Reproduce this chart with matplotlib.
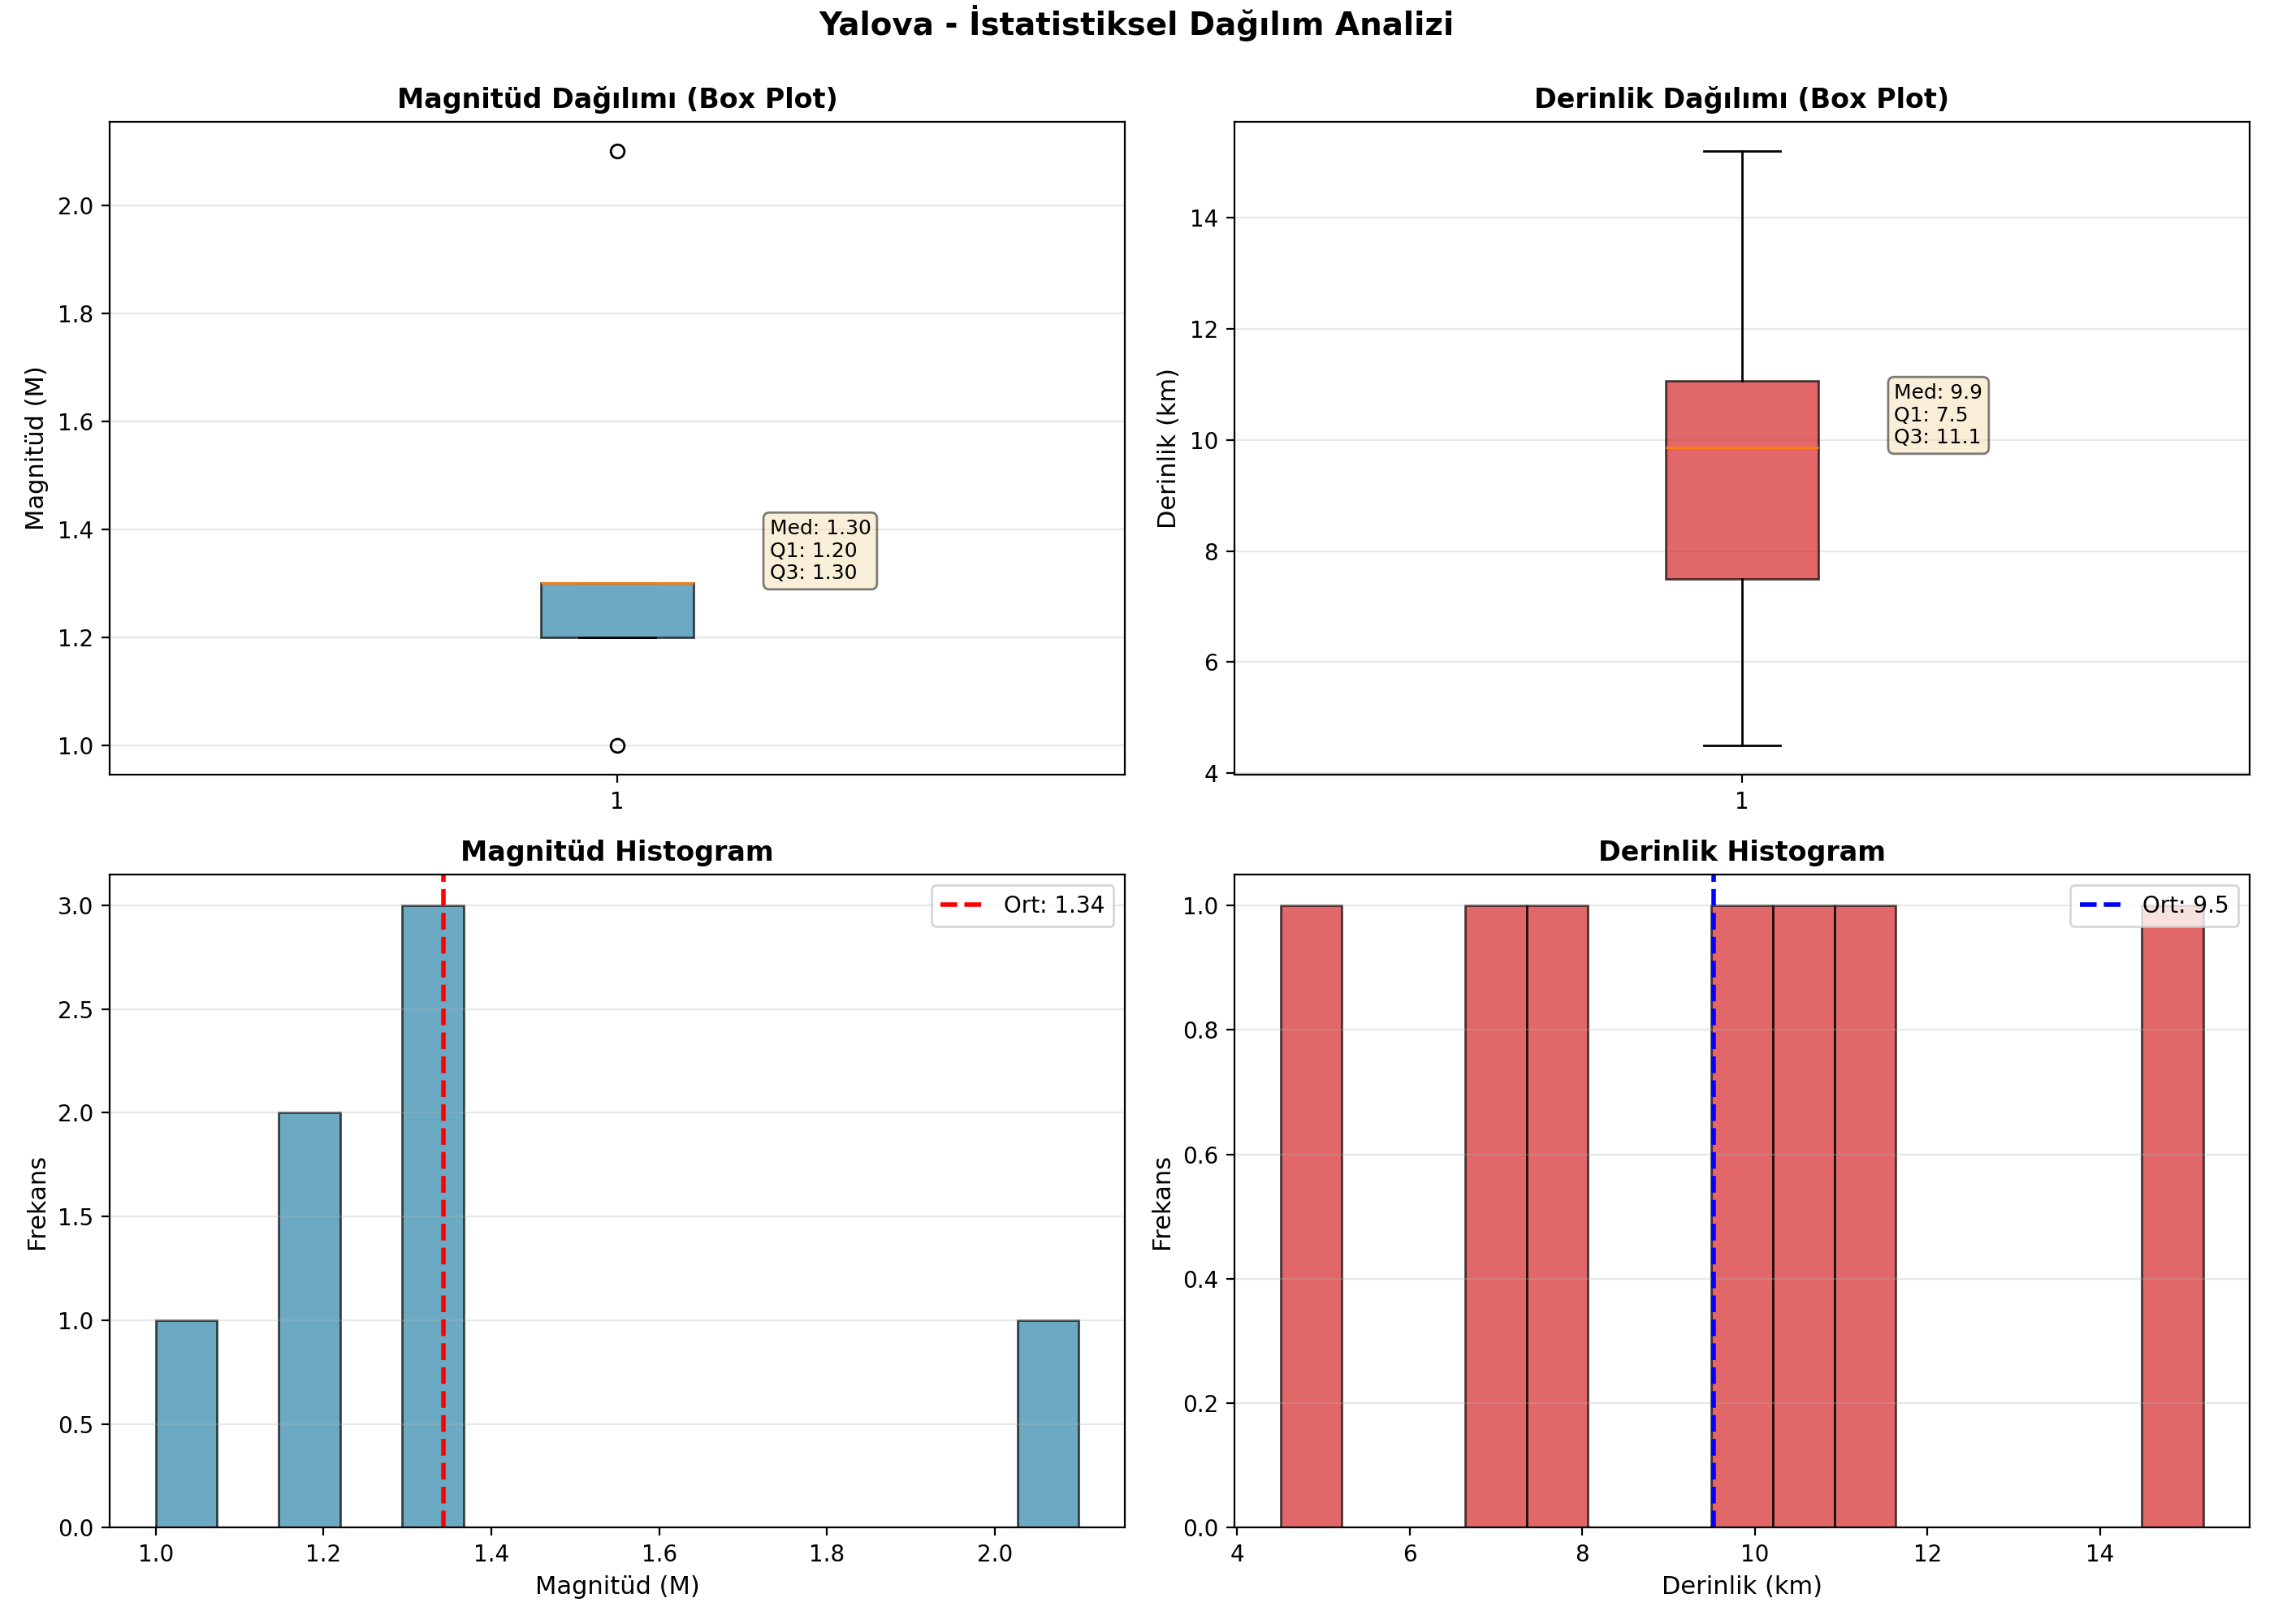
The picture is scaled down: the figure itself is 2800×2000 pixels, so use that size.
import matplotlib
matplotlib.use('Agg')
import matplotlib.pyplot as plt
import numpy as np

# Yalova deprem verileri
magnitudes = [1.0, 1.2, 1.2, 1.3, 1.3, 1.3, 2.1]
depths = [4.5, 7.0, 8.0, 9.86, 10.64, 11.48, 15.2]

mag = np.array(magnitudes)
dep = np.array(depths)

fig, axes = plt.subplots(2, 2, figsize=(14, 10))
st = fig.suptitle('Yalova - İstatistiksel Dağılım Analizi', fontsize=14, fontweight='bold')

# Magnitüd box plot
ax = axes[0, 0]
bp = ax.boxplot(mag, patch_artist=True)
bp['boxes'][0].set_facecolor('#2E86AB')
bp['boxes'][0].set_alpha(0.7)
ax.set_title('Magnitüd Dağılımı (Box Plot)', fontsize=12, fontweight='bold')
ax.set_ylabel('Magnitüd (M)', fontsize=11)
ax.grid(True, alpha=0.3, axis='y')
q1, med, q3 = np.percentile(mag, [25, 50, 75])
ax.text(1.15, med, f'Med: {med:.2f}\nQ1: {q1:.2f}\nQ3: {q3:.2f}',
        fontsize=9, va='bottom',
        bbox=dict(boxstyle='round', facecolor='wheat', alpha=0.5))

# Derinlik box plot
ax = axes[0, 1]
bp = ax.boxplot(dep, patch_artist=True)
bp['boxes'][0].set_facecolor('#d62728')
bp['boxes'][0].set_alpha(0.7)
ax.set_title('Derinlik Dağılımı (Box Plot)', fontsize=12, fontweight='bold')
ax.set_ylabel('Derinlik (km)', fontsize=11)
ax.grid(True, alpha=0.3, axis='y')
q1, med, q3 = np.percentile(dep, [25, 50, 75])
ax.text(1.15, med, f'Med: {med:.1f}\nQ1: {q1:.1f}\nQ3: {q3:.1f}',
        fontsize=9, va='bottom',
        bbox=dict(boxstyle='round', facecolor='wheat', alpha=0.5))

# Magnitüd histogram
ax = axes[1, 0]
ax.hist(mag, bins=15, color='#2E86AB', alpha=0.7, edgecolor='black')
ax.axvline(mag.mean(), color='red', linestyle='--', linewidth=2,
           label=f'Ort: {mag.mean():.2f}')
ax.set_title('Magnitüd Histogram', fontsize=12, fontweight='bold')
ax.set_xlabel('Magnitüd (M)', fontsize=11)
ax.set_ylabel('Frekans', fontsize=11)
ax.legend()
ax.grid(True, alpha=0.3, axis='y')

# Derinlik histogram
ax = axes[1, 1]
ax.hist(dep, bins=15, color='#d62728', alpha=0.7, edgecolor='black')
ax.axvline(dep.mean(), color='blue', linestyle='--', linewidth=2,
           label=f'Ort: {dep.mean():.1f}')
ax.set_title('Derinlik Histogram', fontsize=12, fontweight='bold')
ax.set_xlabel('Derinlik (km)', fontsize=11)
ax.set_ylabel('Frekans', fontsize=11)
ax.legend()
ax.grid(True, alpha=0.3, axis='y')

plt.tight_layout()
st.set_y(0.997)
plt.savefig('out.png', dpi=200)
